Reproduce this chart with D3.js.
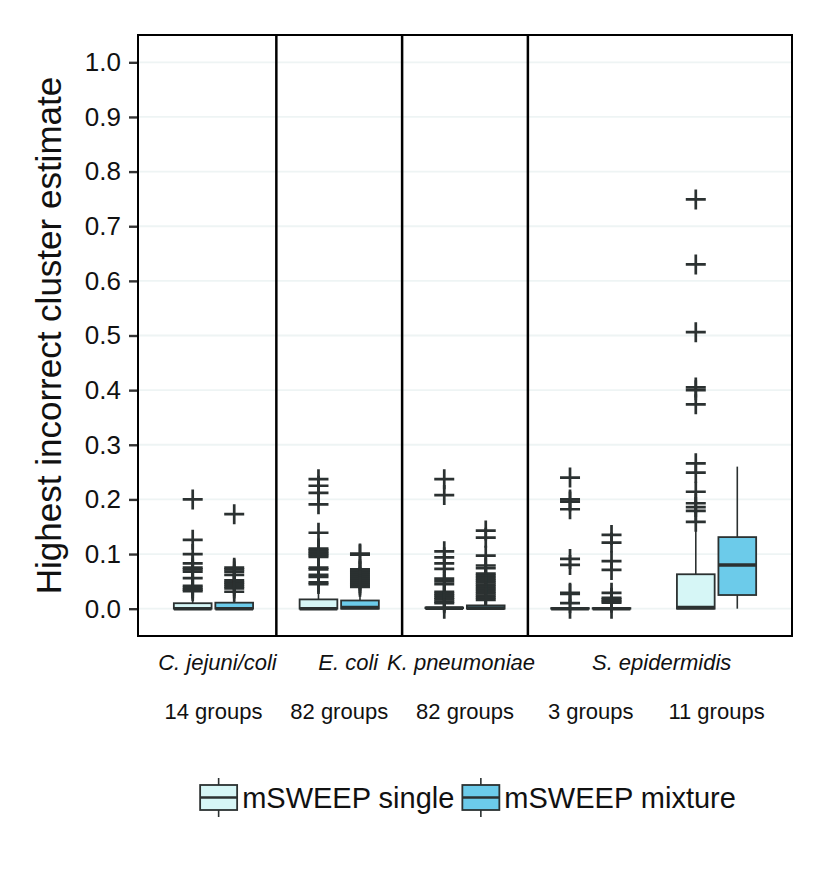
<!DOCTYPE html>
<html>
<head>
<meta charset="utf-8">
<script src="https://cdn.jsdelivr.net/npm/d3@7/dist/d3.min.js"></script>
<style>
  html, body { margin: 0; padding: 0; background: #fff; }
  svg { display: block; }
  text { font-family: "Liberation Sans", Arial, Helvetica, sans-serif; fill: #111; }
</style>
</head>
<body>
<svg id="chart" width="832" height="869"></svg>
<script>
// ---------------- data ----------------
const species = ["C. jejuni/coli", "E. coli", "K. pneumoniae", "S. epidermidis"];
const speciesGroups = [[0], [1], [2], [3, 4]];
const groupLabels = ["14 groups", "82 groups", "82 groups", "3 groups", "11 groups"];
const methods = ["mSWEEP single", "mSWEEP mixture"];
const yTicks = [0.0, 0.1, 0.2, 0.3, 0.4, 0.5, 0.6, 0.7, 0.8, 0.9, 1.0];

// mSWEEP single
const singleQ1 = [0.0, 0.0, 0.001, 0.0, 0.0];
const singleMedian = [0.0, 0.0, 0.001, 0.0, 0.002];
const singleQ3 = [0.01, 0.017, 0.002, 0.001, 0.063];
const singleWhiskerLow = [0.0, 0.0, 0.001, 0.0, 0.0];
const singleWhiskerHigh = [0.024, 0.04, 0.005, 0.001, 0.15];
const singleOutliers = [
  [0.2, 0.126, 0.1, 0.083, 0.075, 0.072, 0.068, 0.056, 0.042, 0.038, 0.035, 0.032],
  [0.237, 0.225, 0.212, 0.191, 0.139, 0.110, 0.107, 0.104, 0.101, 0.098, 0.095, 0.075, 0.072, 0.062, 0.058, 0.048, 0.045],
  [0.237, 0.208, 0.105, 0.094, 0.083, 0.073, 0.055, 0.05, 0.045, 0.031, 0.027, 0.024, 0.02, 0.017, 0.013, 0.01, 0.0],
  [0.24, 0.2, 0.196, 0.182, 0.091, 0.08, 0.029, 0.027, 0.01, 0.0],
  [0.749, 0.630, 0.506, 0.405, 0.400, 0.374, 0.266, 0.249, 0.214, 0.193, 0.186, 0.179, 0.159]
];

// mSWEEP mixture
const mixtureQ1 = [0.0, 0.0, 0.0, 0.0, 0.025];
const mixtureMedian = [0.0, 0.002, 0.001, 0.0, 0.080];
const mixtureQ3 = [0.011, 0.015, 0.006, 0.001, 0.131];
const mixtureWhiskerLow = [0.0, 0.0, 0.0, 0.0, 0.0];
const mixtureWhiskerHigh = [0.027, 0.036, 0.014, 0.005, 0.26];
const mixtureOutliers = [
  [0.173, 0.075, 0.072, 0.068, 0.062, 0.052, 0.048, 0.045, 0.041, 0.037, 0.031],
  [0.101, 0.099, 0.072, 0.069, 0.066, 0.062, 0.058, 0.054, 0.051, 0.047, 0.044, 0.040],
  [0.143, 0.13, 0.097, 0.079, 0.074, 0.064, 0.06, 0.056, 0.052, 0.048, 0.044, 0.04, 0.036, 0.032, 0.028, 0.024, 0.02, 0.016],
  [0.135, 0.121, 0.087, 0.071, 0.029, 0.02, 0.017, 0.014, 0.011, 0.0],
  []
];

// ---------------- layout ----------------
const plot = { left: 138, right: 792, top: 35, bottom: 636 };
const fills = ["#d6f6f6", "#6ccbea"];
const ink = "#2b3131";
const boxWidthUnits = 0.3;
const dodgeUnits = 0.165;
const speciesLabelDx = [4, 9, -4, 8];

const svg = d3.select("#chart");

const x = d3.scaleLinear().domain([-0.6, groupLabels.length - 0.4]).range([plot.left, plot.right]);
const y = d3.scaleLinear().domain([-0.05, 1.05]).range([plot.bottom, plot.top]);
const unit = x(1) - x(0);

// gridlines
svg.append("g").selectAll("line").data(yTicks).join("line")
  .attr("x1", plot.left).attr("x2", plot.right)
  .attr("y1", d => y(d)).attr("y2", d => y(d))
  .attr("stroke", "#eef4f4").attr("stroke-width", 1.8);

// separators between groups (species boundaries)
const separators = [0.5, 1.5, 2.5];
svg.append("g").selectAll("line").data(separators).join("line")
  .attr("x1", d => x(d)).attr("x2", d => x(d))
  .attr("y1", plot.top).attr("y2", plot.bottom)
  .attr("stroke", "#000").attr("stroke-width", 2.5);

// boxes
const series = [
  { q1: singleQ1, med: singleMedian, q3: singleQ3, wl: singleWhiskerLow, wh: singleWhiskerHigh, out: singleOutliers },
  { q1: mixtureQ1, med: mixtureMedian, q3: mixtureQ3, wl: mixtureWhiskerLow, wh: mixtureWhiskerHigh, out: mixtureOutliers }
];
const plus = "M-10,0H10M0,-10V10";

series.forEach((s, si) => {
  const g = svg.append("g");
  groupLabels.forEach((lab, gi) => {
    const cx = x(gi + (si === 0 ? -dodgeUnits : dodgeUnits));
    const hw = boxWidthUnits * unit / 2;
    // whiskers
    g.append("line").attr("x1", cx).attr("x2", cx)
      .attr("y1", y(s.q3[gi])).attr("y2", y(s.wh[gi]))
      .attr("stroke", ink).attr("stroke-width", 1.6);
    g.append("line").attr("x1", cx).attr("x2", cx)
      .attr("y1", y(s.q1[gi])).attr("y2", y(s.wl[gi]))
      .attr("stroke", ink).attr("stroke-width", 1.6);
    // outliers
    g.append("g").selectAll("path").data(s.out[gi]).join("path")
      .attr("d", plus)
      .attr("transform", d => `translate(${cx},${y(d)})`)
      .attr("stroke", ink).attr("stroke-width", 2.7).attr("fill", "none");
    // box
    g.append("rect")
      .attr("x", cx - hw).attr("width", hw * 2)
      .attr("y", y(s.q3[gi])).attr("height", Math.max(0.01, y(s.q1[gi]) - y(s.q3[gi])))
      .attr("fill", fills[si]).attr("stroke", ink).attr("stroke-width", 1.8);
    // median
    g.append("line").attr("x1", cx - hw).attr("x2", cx + hw)
      .attr("y1", y(s.med[gi])).attr("y2", y(s.med[gi]))
      .attr("stroke", ink).attr("stroke-width", 3.6);
  });
});

// panel border
svg.append("rect")
  .attr("x", plot.left).attr("y", plot.top)
  .attr("width", plot.right - plot.left).attr("height", plot.bottom - plot.top)
  .attr("fill", "none").attr("stroke", "#000").attr("stroke-width", 2);

// y axis
const yAxis = d3.axisLeft(y).tickValues(yTicks).tickFormat(d3.format(".1f")).tickSize(8).tickPadding(8);
const ya = svg.append("g").attr("transform", `translate(${plot.left - 1},0)`).call(yAxis);
ya.select(".domain").remove();
ya.selectAll(".tick line").attr("stroke", "#333").attr("stroke-width", 2.4);
ya.selectAll(".tick text").attr("font-size", 26).attr("fill", "#111")
  .attr("font-family", "'Liberation Sans', Arial, sans-serif");

// y title
svg.append("text")
  .attr("transform", `translate(61,${(y(0) + y(1)) / 2}) rotate(-90)`)
  .attr("text-anchor", "middle")
  .attr("font-size", 35)
  .text("Highest incorrect cluster estimate");

// species labels
svg.append("g").selectAll("text").data(species).join("text")
  .attr("x", (d, i) => d3.mean(speciesGroups[i], gi => x(gi)) + speciesLabelDx[i])
  .attr("y", 670)
  .attr("text-anchor", "middle")
  .attr("font-size", 22)
  .attr("font-style", "italic")
  .text(d => d);

// group count labels
svg.append("g").selectAll("text").data(groupLabels).join("text")
  .attr("x", (d, i) => x(i))
  .attr("y", 719)
  .attr("text-anchor", "middle")
  .attr("font-size", 22)
  .text(d => d);

// legend
const leg = svg.append("g");
const keyW = 37, keyTop = 778, keyBot = 817, boxTop = 785, boxBot = 810;
const texts = methods.map(m => leg.append("text").attr("font-size", 29).attr("y", 808).text(m));
const widths = texts.map(t => t.node().getComputedTextLength());
const total = keyW + 5 + widths[0] + 8 + keyW + 5 + widths[1];
let cursor = (plot.left + plot.right) / 2 + 3 - total / 2;
methods.forEach((m, i) => {
  const kx = cursor;
  const kc = kx + keyW / 2;
  leg.append("line").attr("x1", kc).attr("x2", kc).attr("y1", keyTop).attr("y2", keyBot)
    .attr("stroke", ink).attr("stroke-width", 1.6);
  leg.append("rect").attr("x", kx).attr("y", boxTop).attr("width", keyW).attr("height", boxBot - boxTop)
    .attr("fill", fills[i]).attr("stroke", ink).attr("stroke-width", 1.8);
  leg.append("line").attr("x1", kx).attr("x2", kx + keyW).attr("y1", (boxTop + boxBot) / 2).attr("y2", (boxTop + boxBot) / 2)
    .attr("stroke", ink).attr("stroke-width", 2.4);
  texts[i].attr("x", kx + keyW + 5);
  cursor = kx + keyW + 5 + widths[i] + 8;
});
</script>
</body>
</html>
